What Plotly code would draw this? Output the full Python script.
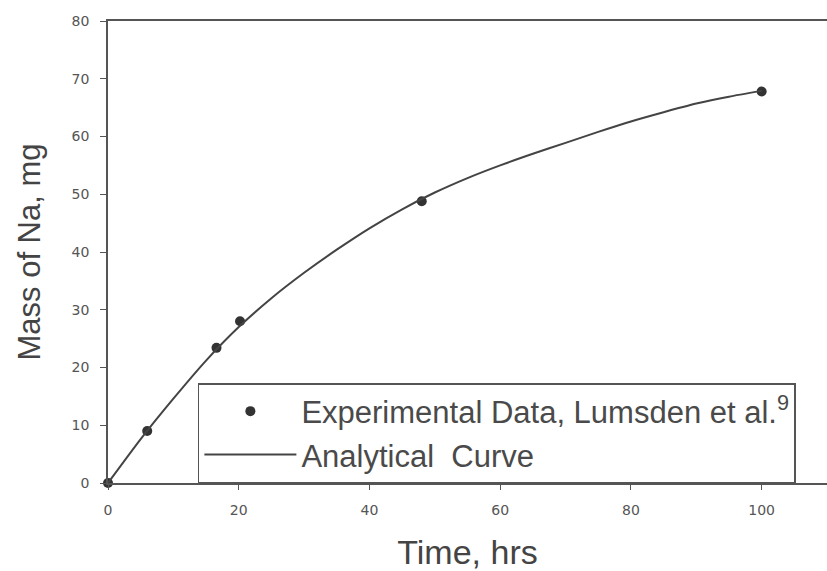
import plotly.graph_objects as go

# Experimental data (Lumsden et al.)
exp_time = [0, 6, 16.6, 20.2, 48, 100]
exp_mass = [0, 9, 23.4, 28, 48.8, 67.8]

# Analytical curve
curve_time = [0, 5, 10, 15, 20, 25, 30, 35, 40, 45, 50, 55, 60, 65, 70, 75, 80, 85, 90, 95, 100]
curve_mass = [0, 7.6, 14.6, 21.2, 27.0, 32.0, 36.4, 40.4, 44.1, 47.4, 50.3, 52.8, 55.0,
              57.0, 58.9, 60.8, 62.6, 64.2, 65.7, 66.9, 67.9]

x_ticks = [0, 20, 40, 60, 80, 100]
y_ticks = [0, 10, 20, 30, 40, 50, 60, 70, 80]

FONT = "Arial, Liberation Sans, sans-serif"
TICKFONT = "DejaVu Sans, Verdana, sans-serif"
INK = "#444444"

fig = go.Figure()
fig.add_trace(go.Scatter(
    x=exp_time, y=exp_mass, mode="markers",
    name="Experimental Data, Lumsden et al.<sup>9</sup>",
    marker=dict(color="#333333", size=10, symbol="circle"),
    cliponaxis=False,
))
fig.add_trace(go.Scatter(
    x=curve_time, y=curve_mass, mode="lines",
    name="Analytical  Curve",
    line=dict(color="#444444", width=2, shape="spline", smoothing=0.6),
    cliponaxis=False,
))

fig.update_layout(
    width=827, height=571,
    margin=dict(l=108, r=0, t=21, b=88),
    paper_bgcolor="white", plot_bgcolor="white",
    font=dict(family=FONT, color=INK),
    showlegend=True,
    legend=dict(
        x=0.125, y=0, xanchor="left", yanchor="bottom",
        bordercolor="#555555", borderwidth=1.5, bgcolor="white",
        font=dict(size=31, color="#4a4a4a", family=FONT),
        itemwidth=92, tracegroupgap=0,
        traceorder="normal",
    ),
    xaxis=dict(
        range=[0, 110], tickvals=x_ticks, ticks="outside", ticklen=5,
        tickcolor="#555555", showline=True, linecolor="#555555", linewidth=1.5,
        mirror=True, showgrid=False, zeroline=False,
        tickfont=dict(size=14, color="#555555", family=TICKFONT),
        ticklabelstandoff=8,
        title=dict(text="Time, hrs", font=dict(size=34, color="#444444"), standoff=24),
    ),
    yaxis=dict(
        range=[0, 80], tickvals=y_ticks, ticks="outside", ticklen=6,
        tickcolor="#555555", showline=True, linecolor="#555555", linewidth=1.5,
        showgrid=False, zeroline=False,
        tickfont=dict(size=14, color="#555555", family=TICKFONT),
        ticklabelstandoff=8,
        title=dict(text="Mass of Na, mg", font=dict(size=31, color="#444444"), standoff=22),
    ),
)

fig.write_html("out.html")
